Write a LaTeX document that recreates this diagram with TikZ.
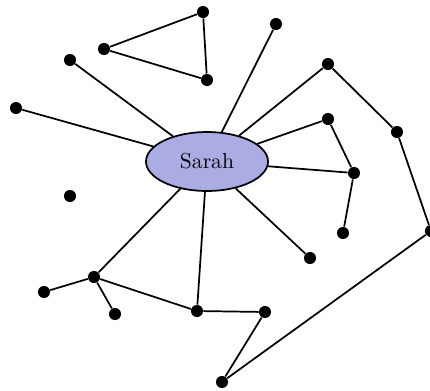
\documentclass[tikz,border=0pt]{standalone}
\usetikzlibrary{shapes.geometric}
\definecolor{sarahblue}{RGB}{172,172,228}
\begin{document}
\begin{tikzpicture}[%
  x=0.463pt, y=-0.463pt,
  vertex/.style={circle,fill=black,inner sep=0pt,minimum size=5.6pt},
  person/.style={ellipse,draw,thick,fill=sarahblue,minimum width=56.5pt,minimum height=27.3pt,inner sep=0pt},
  link/.style={thick}]
\useasboundingbox (0,0) rectangle (430,391);
\node[person] (sarah) at (207,161.5) {Sarah};
% triangle
\node[vertex] (tri1) at (203,12) {};
\node[vertex] (tri2) at (104,49) {};
\node[vertex] (tri3) at (207,80) {};
% friends
\node[vertex] (fa) at (276,24) {};
\node[vertex] (fb) at (70,60) {};
\node[vertex] (fc) at (16,108) {};
\node[vertex] (fd) at (328,64) {};
\node[vertex] (fe) at (397,132) {};
\node[vertex] (ff) at (431,231) {};
\node[vertex] (fg) at (222,382) {};
\node[vertex] (fh) at (265,312) {};
\node[vertex] (fi) at (197,311) {};
\node[vertex] (fj) at (94,277) {};
\node[vertex] (fk) at (44,292) {};
\node[vertex] (fl) at (115,314) {};
\node[vertex] (fm) at (328,119) {};
\node[vertex] (fn) at (354,173) {};
\node[vertex] (fo) at (343,233) {};
\node[vertex] (fp) at (310,258) {};
\node[vertex] (lonely) at (70,196) {};

\draw[link] (tri1) -- (tri2) -- (tri3) -- (tri1);
\draw[link] (sarah) -- (fa);
\draw[link] (sarah) -- (fb);
\draw[link] (sarah) -- (fc);
\draw[link] (sarah) -- (fd) -- (fe) -- (ff) -- (fg) -- (fh) -- (fi) -- (sarah);
\draw[link] (fi) -- (fj) -- (sarah);
\draw[link] (fj) -- (fk);
\draw[link] (fj) -- (fl);
\draw[link] (sarah) -- (fm) -- (fn) -- (sarah);
\draw[link] (fn) -- (fo);
\draw[link] (sarah) -- (fp);
\end{tikzpicture}
\end{document}
